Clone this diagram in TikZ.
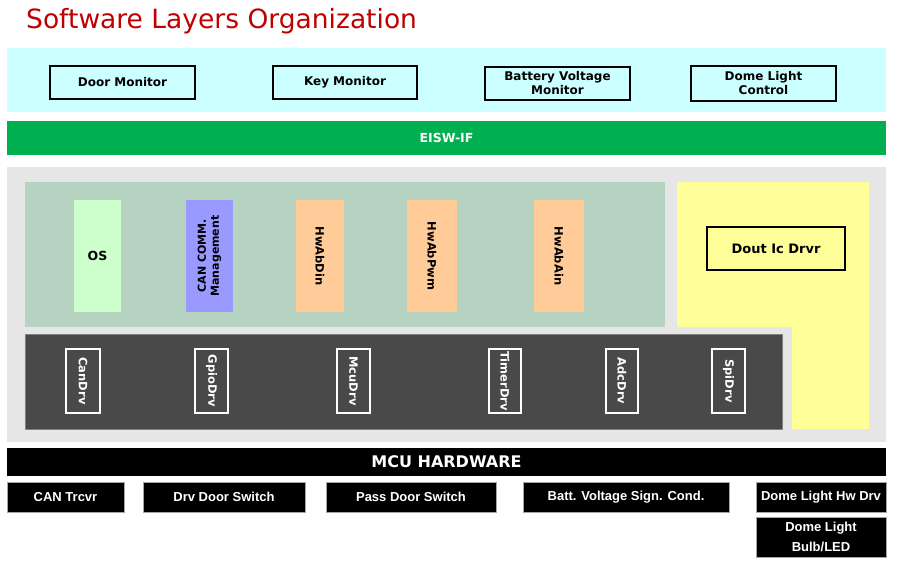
\documentclass[tikz,border=0pt]{standalone}
\usepackage{fontspec}
\setmainfont{DejaVu Sans}
\newfontfamily\arialb{Liberation Sans}[Scale=1]
\usetikzlibrary{positioning}
\definecolor{titlered}{HTML}{C00000}
\definecolor{cyanband}{HTML}{CCFFFF}
\definecolor{greenband}{HTML}{00B050}
\definecolor{lightgray}{HTML}{E6E6E6}
\definecolor{sage}{HTML}{B5D3C0}
\definecolor{osgreen}{HTML}{CCFFCC}
\definecolor{canblue}{HTML}{9999FF}
\definecolor{hworange}{HTML}{FFCC99}
\definecolor{yellowarea}{HTML}{FFFF99}
\definecolor{darkarea}{HTML}{494949}
\tikzset{
  area/.style={inner sep=0pt, outer sep=0pt, draw=none},
  topbox/.style={draw=black, line width=1.5pt, fill=cyanband, inner sep=0pt, align=center,
    font=\bfseries\fontsize{12}{14}\selectfont},
  swbox/.style={draw=none, inner sep=0pt, align=center, font=\bfseries\fontsize{11.5}{13}\selectfont},
  drvbox/.style={draw=white, line width=1.2pt, inner sep=0pt, text=white,
    font=\bfseries\fontsize{11.5}{12}\selectfont},
  hwbox/.style={draw=gray!70, line width=0.6pt, fill=black, text=white, inner sep=0pt, align=center,
    font=\arialb\bfseries\fontsize{13}{20}\selectfont},
}
\begin{document}
\begin{tikzpicture}[x=1pt, y=-1pt]
\useasboundingbox (0,0) rectangle (897,565);
% title
\node[anchor=base west, inner sep=0pt, text=titlered, font=\fontsize{26.5}{30}\selectfont] (title) at (26,28) {Software Layers Organization};
% application layer
\node[area, fill=cyanband, minimum width=879pt, minimum height=64pt] (app) at (446.5,80) {};
\node[topbox, minimum width=145pt, minimum height=33pt] (door) at (122.5,82.5) {Door Monitor};
\node[topbox, minimum width=144pt, minimum height=33pt] (key) at (345,82.5) {Key Monitor};
\node[topbox, minimum width=145pt, minimum height=33pt] (batt) at (557.5,83.5) {Battery Voltage\\Monitor};
\node[topbox, minimum width=145pt, minimum height=35pt] (dome) at (763.5,83.5) {Dome Light\\Control};
% EISW-IF
\node[area, fill=greenband, minimum width=879pt, minimum height=34pt, text=white,
  font=\bfseries\fontsize{12.5}{13}\selectfont] (eisw) at (446.5,138) {EISW-IF};
% basic software area
\node[area, fill=lightgray, minimum width=879pt, minimum height=275pt] (bsw) at (446.5,304.5) {};
\node[area, fill=sage, minimum width=640pt, minimum height=145pt] (sagearea) at (345,254.5) {};
\node[swbox, fill=osgreen, minimum width=47pt, minimum height=112pt, font=\bfseries\fontsize{12.5}{13}\selectfont] (os) at (97.5,256) {OS};
\node[swbox, fill=canblue, minimum width=47pt, minimum height=112pt] (canbox) at (209.5,256) {};
\node[swbox, rotate=90, inner sep=0pt, font=\bfseries\fontsize{11}{13}\selectfont] (canlbl) at (209.5,256) {CAN COMM.\\Management};
\node[swbox, fill=hworange, minimum width=48pt, minimum height=112pt] (dinbox) at (320,256) {};
\node[swbox, rotate=-90] (din) at (320,256) {HwAbDin};
\node[swbox, fill=hworange, minimum width=50pt, minimum height=112pt] (pwmbox) at (432,256) {};
\node[swbox, rotate=-90] (pwm) at (432,256) {HwAbPwm};
\node[swbox, fill=hworange, minimum width=50pt, minimum height=112pt] (ainbox) at (559,256) {};
\node[swbox, rotate=-90] (ain) at (559,256) {HwAbAin};
% yellow L-shaped area
\fill[yellowarea] (677,182) -- (869,182) -- (869,429) -- (792,429) -- (792,327) -- (677,327) -- cycle;
\node[draw=black, line width=1.5pt, fill=yellowarea, minimum width=138pt, minimum height=43pt, inner sep=0pt,
  font=\bfseries\fontsize{13}{14}\selectfont] (dout) at (776,248.5) {Dout Ic Drvr};
% driver area
\node[draw=gray, line width=0.8pt, fill=darkarea, minimum width=757pt, minimum height=95pt, inner sep=0pt] (drv) at (403.5,381.5) {};
\node[drvbox, minimum width=34pt, minimum height=64pt] (candrvbox) at (83,381) {};
\node[drvbox, draw=none, rotate=-90] (candrv) at (83,381) {CanDrv};
\node[drvbox, minimum width=33pt, minimum height=64pt] (gpiobox) at (211.5,381) {};
\node[drvbox, draw=none, rotate=-90] (gpio) at (211.5,381) {GpioDrv};
\node[drvbox, minimum width=33pt, minimum height=64pt] (mcubox) at (353.5,381) {};
\node[drvbox, draw=none, rotate=-90] (mcu) at (353.5,381) {McuDrv};
\node[drvbox, minimum width=32pt, minimum height=64pt] (timerbox) at (505,381) {};
\node[drvbox, draw=none, rotate=-90] (timer) at (505,381) {TimerDrv};
\node[drvbox, minimum width=32pt, minimum height=64pt] (adcbox) at (622,381) {};
\node[drvbox, draw=none, rotate=-90] (adc) at (622,381) {AdcDrv};
\node[drvbox, minimum width=33pt, minimum height=64pt] (spibox) at (728.5,381) {};
\node[drvbox, draw=none, rotate=-90] (spi) at (728.5,381) {SpiDrv};
% hardware
\node[area, fill=black, minimum width=879pt, minimum height=28pt, text=white,
  font=\bfseries\fontsize{16}{17}\selectfont] (mcuhw) at (446.5,462) {MCU HARDWARE};
\node[hwbox, minimum width=117pt, minimum height=30pt] (cantrcvr) at (65.5,497) {CAN Trcvr};
\node[hwbox, minimum width=162pt, minimum height=30pt] (drvdoor) at (224,497) {Drv Door Switch};
\node[hwbox, minimum width=170pt, minimum height=30pt] (passdoor) at (411,497) {Pass Door Switch};
\node[hwbox, minimum width=206pt, minimum height=30pt] (battcond) at (626,497) {Batt. Voltage Sign. Cond.};
\node[hwbox, minimum width=130pt, minimum height=30pt] (domehw) at (821,497) {Dome Light Hw Drv};
\node[hwbox, minimum width=130pt, minimum height=40pt] (domebulb) at (821,537) {Dome Light\\Bulb/LED};
\end{tikzpicture}
\end{document}
